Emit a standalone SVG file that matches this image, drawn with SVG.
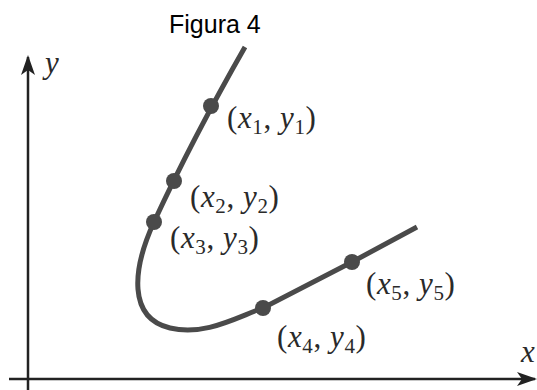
<svg xmlns="http://www.w3.org/2000/svg" width="537" height="390" viewBox="0 0 537 390">
<style>
.lbl{font-family:"Liberation Serif","Times New Roman",serif;font-size:31px;fill:#2a2a2a}
.it{font-style:italic}
.sub{font-size:21px}
.curve{fill:none;stroke:#4a4a4a;stroke-width:5;stroke-linecap:butt}
.dot{fill:#4a4a4a}
.axis{stroke:#222;stroke-width:2.5;fill:none}
</style>
<defs>
<marker id="arr" viewBox="0 0 20 14" refX="18" refY="7" markerWidth="20" markerHeight="14" markerUnits="userSpaceOnUse" orient="auto">
<path d="M0,0 L20,7 L0,14 L5,7 Z" fill="#222"/>
</marker>
</defs>
<text x="169" y="33" font-family="Liberation Sans, Arial, sans-serif" font-size="25" fill="#000">Figura 4</text>
<g id="axes">
<line class="axis" x1="28" y1="390" x2="28" y2="57" marker-end="url(#arr)"/>
<line class="axis" x1="9" y1="379" x2="535" y2="379" marker-end="url(#arr)"/>
<text class="lbl it" x="45" y="73">y</text>
<text class="lbl it" x="521" y="362">x</text>
</g>
<g id="connectors">
<path class="curve" d="M245,47 C225,82 185,155 154,222 C132,270 128,318 170,328 C205,336 235,318 263,308 L352,262 L417,227"/>
</g>
<g id="p1"><circle class="dot" cx="211" cy="106" r="8"/><text class="lbl" x="227" y="128" letter-spacing="0.6">(<tspan class="it">x</tspan><tspan class="sub" dy="6">1</tspan><tspan dy="-6">, </tspan><tspan class="it">y</tspan><tspan class="sub" dy="6">1</tspan><tspan dy="-6">)</tspan></text></g>
<g id="p2"><circle class="dot" cx="174" cy="181" r="8"/><text class="lbl" x="190" y="207" letter-spacing="0.6">(<tspan class="it">x</tspan><tspan class="sub" dy="6">2</tspan><tspan dy="-6">, </tspan><tspan class="it">y</tspan><tspan class="sub" dy="6">2</tspan><tspan dy="-6">)</tspan></text></g>
<g id="p3"><circle class="dot" cx="154" cy="222" r="8"/><text class="lbl" x="170" y="248" letter-spacing="0.6">(<tspan class="it">x</tspan><tspan class="sub" dy="6">3</tspan><tspan dy="-6">, </tspan><tspan class="it">y</tspan><tspan class="sub" dy="6">3</tspan><tspan dy="-6">)</tspan></text></g>
<g id="p4"><circle class="dot" cx="263" cy="308" r="8"/><text class="lbl" x="277" y="347" letter-spacing="0.6">(<tspan class="it">x</tspan><tspan class="sub" dy="6">4</tspan><tspan dy="-6">, </tspan><tspan class="it">y</tspan><tspan class="sub" dy="6">4</tspan><tspan dy="-6">)</tspan></text></g>
<g id="p5"><circle class="dot" cx="352" cy="262" r="8"/><text class="lbl" x="366" y="294" letter-spacing="0.6">(<tspan class="it">x</tspan><tspan class="sub" dy="6">5</tspan><tspan dy="-6">, </tspan><tspan class="it">y</tspan><tspan class="sub" dy="6">5</tspan><tspan dy="-6">)</tspan></text></g>
</svg>
